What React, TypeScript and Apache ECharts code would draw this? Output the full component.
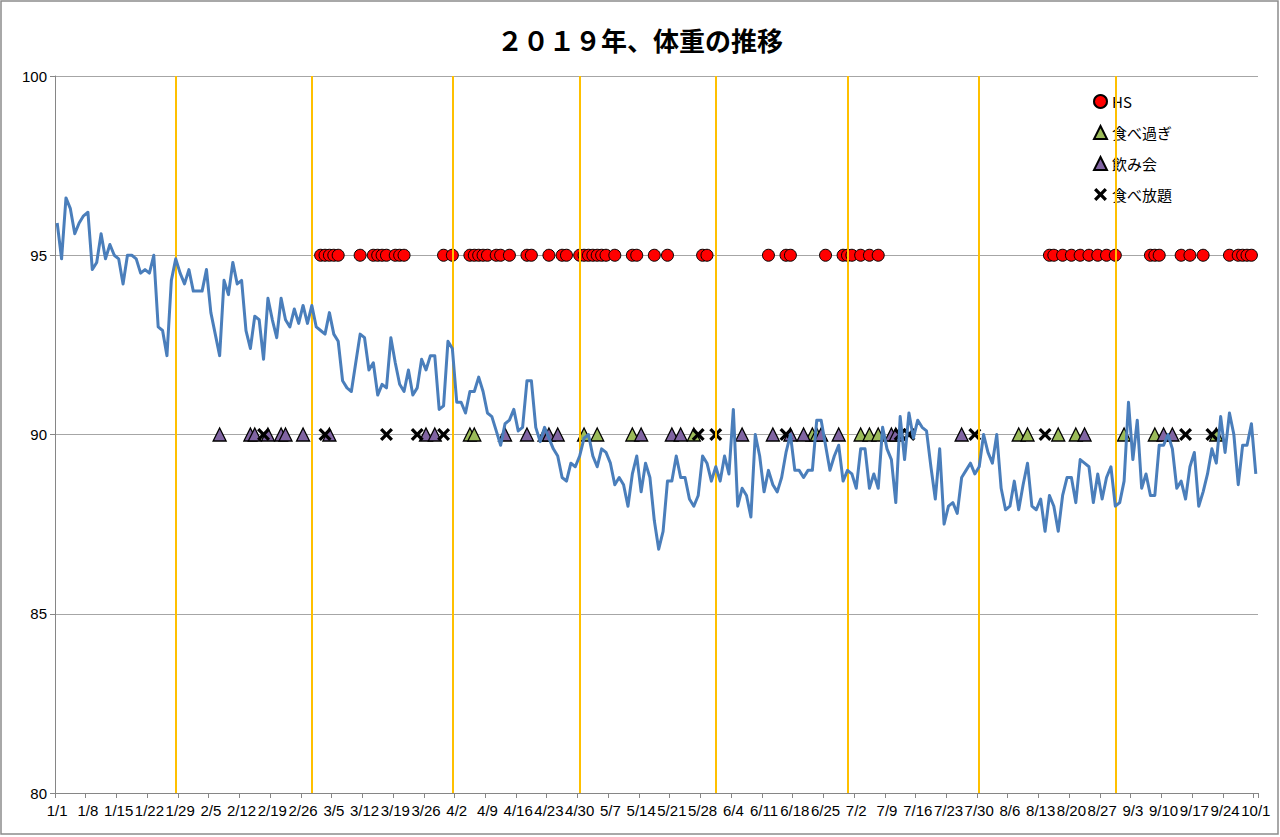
import React, { useEffect, useRef } from 'react';
import * as echarts from 'echarts';

const TITLE = '２０１９年、体重の推移';

// category axis: 1/1 .. 10/1 (2019)
const MONTH_LENGTHS = [31, 28, 31, 30, 31, 30, 31, 31, 30];
const DATES: string[] = [];
MONTH_LENGTHS.forEach((len, m) => {
  for (let d = 1; d <= len; d++) DATES.push(`${m + 1}/${d}`);
});
DATES.push('10/1');

// daily weight (kg), 1/1 .. 10/1
const WEIGHT = [
  95.9, 94.9, 96.6, 96.3, 95.6, 95.9, 96.1, 96.2, 94.6, 94.8,
  95.6, 94.9, 95.3, 95.0, 94.9, 94.2, 95.0, 95.0, 94.9, 94.5,
  94.6, 94.5, 95.0, 93.0, 92.9, 92.2, 94.3, 94.9, 94.5, 94.2,
  94.6, 94.0, 94.0, 94.0, 94.6, 93.4, 92.8, 92.2, 94.3, 93.9,
  94.8, 94.2, 94.3, 92.9, 92.4, 93.3, 93.2, 92.1, 93.8, 93.2,
  92.7, 93.8, 93.2, 93.0, 93.5, 93.1, 93.6, 93.1, 93.6, 93.0,
  92.9, 92.8, 93.4, 92.8, 92.6, 91.5, 91.3, 91.2, 92.0, 92.8,
  92.7, 91.8, 92.0, 91.1, 91.4, 91.3, 92.7, 92.0, 91.4, 91.2,
  91.8, 91.1, 91.3, 92.1, 91.8, 92.2, 92.2, 90.7, 90.8, 92.6,
  92.4, 90.9, 90.9, 90.6, 91.2, 91.2, 91.6, 91.2, 90.6, 90.5,
  90.1, 89.7, 90.3, 90.4, 90.7, 90.1, 90.2, 91.5, 91.5, 90.2,
  89.8, 90.2, 89.9, 89.6, 89.4, 88.8, 88.7, 89.2, 89.1, 89.4,
  89.9, 90.0, 89.4, 89.1, 89.6, 89.5, 89.2, 88.6, 88.8, 88.6,
  88.0, 88.9, 89.4, 88.4, 89.2, 88.8, 87.6, 86.8, 87.3, 88.7,
  88.7, 89.4, 88.8, 88.8, 88.2, 88.0, 88.3, 89.4, 89.2, 88.7,
  89.1, 88.7, 89.4, 88.9, 90.7, 88.0, 88.5, 88.3, 87.7, 90.0,
  89.4, 88.4, 89.0, 88.6, 88.4, 88.8, 89.5, 90.0, 89.0, 89.0,
  88.8, 89.0, 89.0, 90.4, 90.4, 89.7, 89.0, 89.4, 89.7, 88.7,
  89.0, 88.9, 88.5, 89.6, 89.6, 88.5, 88.9, 88.5, 90.2, 89.6,
  89.3, 88.1, 90.5, 89.3, 90.6, 89.9, 90.4, 90.2, 90.1, 89.1,
  88.2, 89.6, 87.5, 88.0, 88.1, 87.8, 88.8, 89.0, 89.2, 88.9,
  89.1, 90.0, 89.5, 89.2, 90.0, 88.5, 87.9, 88.0, 88.7, 87.9,
  88.6, 89.2, 88.0, 87.9, 88.2, 87.3, 88.3, 88.0, 87.3, 88.3,
  88.8, 88.8, 88.1, 89.3, 89.2, 89.1, 88.1, 88.9, 88.2, 88.8,
  89.1, 88.0, 88.1, 88.7, 90.9, 89.3, 90.4, 88.5, 88.9, 88.3,
  88.3, 89.7, 89.7, 90.0, 89.6, 88.5, 88.7, 88.2, 89.1, 89.5,
  88.0, 88.4, 88.9, 89.6, 89.2, 90.5, 89.5, 90.6, 90.0, 88.6,
  89.7, 89.7, 90.3, 88.9,
];

const HS_LEVEL = 95;
const EVENT_LEVEL = 90;

const HS_DAYS = [
  '3/2', '3/3', '3/4', '3/5', '3/6', '3/11', '3/14', '3/15', '3/16', '3/17',
  '3/19', '3/20', '3/21', '3/30', '4/1', '4/5', '4/6', '4/7', '4/8', '4/9',
  '4/11', '4/12', '4/14', '4/18', '4/19', '4/23', '4/26', '4/27', '4/30', '5/1',
  '5/2', '5/3', '5/4', '5/5', '5/6', '5/8', '5/12', '5/13', '5/17', '5/20',
  '5/28', '5/29', '6/12', '6/16', '6/17', '6/25', '6/29', '6/30', '7/1', '7/3',
  '7/5', '7/7', '8/15', '8/16', '8/18', '8/20', '8/22', '8/24', '8/26', '8/28',
  '8/30', '9/7', '9/8', '9/9', '9/14', '9/16', '9/19', '9/25', '9/27', '9/28',
  '9/29', '9/30',
];

const OVEREAT_DAYS = [
  '4/5', '4/6', '5/1', '5/4', '5/12', '5/26', '6/22', '6/23', '7/3', '7/5',
  '7/7', '8/8', '8/10', '8/17', '8/21', '9/1', '9/8', '9/22',
];

const DRINKING_DAYS = [
  '2/7', '2/14', '2/15', '2/18', '2/21', '2/22', '2/26', '3/4', '3/26', '3/28',
  '4/13', '4/18', '4/22', '4/23', '4/25', '5/14', '5/21', '5/23', '6/6', '6/13',
  '6/17', '6/20', '6/24', '6/28', '7/10', '7/11', '7/26', '8/23', '9/10', '9/12',
];

const BUFFET_DAYS = [
  '2/17', '3/3', '3/17', '3/24', '3/30', '5/27', '5/31', '6/16', '7/12', '7/14',
  '7/29', '8/14', '9/15', '9/21',
];

const MONTH_MARKS = ['1/28', '2/28', '4/1', '4/30', '5/31', '6/30', '7/30', '8/30'];

const Y_MIN = 80;
const Y_MAX = 100;
const Y_STEP = 5;

const X_SYMBOL =
  'path://M0,1.8L1.8,0L5,3.2L8.2,0L10,1.8L6.8,5L10,8.2L8.2,10L5,6.8L1.8,10L0,8.2L3.2,5Z';

const JP_FONT = '"Noto Sans CJK JP", "Noto Sans", sans-serif';
const NUM_FONT = '"Liberation Sans", Arial, sans-serif';

const toPoints = (days: string[], level: number) =>
  days.map((d) => [DATES.indexOf(d), level]);

export default function App() {
  const ref = useRef<HTMLDivElement>(null);

  useEffect(() => {
    if (!ref.current) return;
    const chart = echarts.init(ref.current, undefined, { renderer: 'svg' });
    const axisGray = '#868686';
    chart.setOption({
      animation: false,
      backgroundColor: '#ffffff',
      title: {
        text: TITLE,
        left: 'center',
        top: 21,
        textStyle: { fontSize: 26, fontWeight: 'bold', fontFamily: JP_FONT, color: '#000' },
      },
      legend: {
        orient: 'vertical',
        left: 1088,
        top: 89,
        itemGap: 16,
        itemWidth: 13,
        itemHeight: 13,
        selectedMode: false,
        textStyle: { fontSize: 15, fontFamily: JP_FONT, color: '#000' },
        data: [
          { name: 'HS', icon: 'circle' },
          { name: '食べ過ぎ', icon: 'triangle' },
          { name: '飲み会', icon: 'triangle' },
          { name: '食べ放題', icon: X_SYMBOL },
        ],
      },
      grid: { left: 55, right: 22, top: 76, bottom: 44 },
      xAxis: {
        type: 'category',
        data: DATES,
        boundaryGap: true,
        axisLine: { lineStyle: { color: axisGray, width: 1 } },
        axisTick: { show: true, interval: 6, length: 5, lineStyle: { color: axisGray } },
        axisLabel: {
          interval: 6,
          fontSize: 15,
          fontFamily: NUM_FONT,
          color: '#000',
          margin: 10,
        },
        splitLine: { show: false },
      },
      yAxis: {
        type: 'value',
        min: Y_MIN,
        max: Y_MAX,
        interval: Y_STEP,
        axisLine: { show: true, lineStyle: { color: axisGray, width: 1 } },
        axisTick: { show: true, length: 5, lineStyle: { color: axisGray } },
        axisLabel: { fontSize: 15, fontFamily: NUM_FONT, color: '#000', margin: 8 },
        splitLine: { lineStyle: { color: '#A6A6A6', width: 1 } },
      },
      series: [
        {
          name: 'HS',
          type: 'scatter',
          data: toPoints(HS_DAYS, HS_LEVEL),
          symbol: 'circle',
          symbolSize: 12,
          itemStyle: { color: '#FF0000', borderColor: '#000', borderWidth: 1, opacity: 1 },
          z: 2,
        },
        {
          name: '食べ過ぎ',
          type: 'scatter',
          data: toPoints(OVEREAT_DAYS, EVENT_LEVEL),
          symbol: 'triangle',
          symbolSize: 13,
          itemStyle: { color: '#9BBB59', borderColor: '#000', borderWidth: 1.3, opacity: 1 },
          z: 2,
        },
        {
          name: '飲み会',
          type: 'scatter',
          data: toPoints(DRINKING_DAYS, EVENT_LEVEL),
          symbol: 'triangle',
          symbolSize: 13,
          itemStyle: { color: '#8064A2', borderColor: '#000', borderWidth: 1.3, opacity: 1 },
          z: 2,
        },
        {
          name: '食べ放題',
          type: 'scatter',
          data: toPoints(BUFFET_DAYS, EVENT_LEVEL),
          symbol: X_SYMBOL,
          symbolSize: 13,
          itemStyle: { color: '#000', opacity: 1 },
          z: 2,
        },
        {
          name: '体重',
          type: 'line',
          data: WEIGHT,
          showSymbol: false,
          symbol: 'none',
          lineStyle: { color: '#4A7EBB', width: 3, join: 'round' },
          itemStyle: { color: '#4A7EBB' },
          z: 5,
          markLine: {
            silent: true,
            symbol: ['none', 'none'],
            label: { show: false },
            lineStyle: { color: '#FFC000', width: 2, type: 'solid' },
            data: MONTH_MARKS.map((m) => ({ xAxis: m })),
          },
        },
      ],
      graphic: [
        {
          type: 'rect',
          shape: { x: 1, y: 1, width: 1277, height: 833 },
          style: { fill: 'none', stroke: '#8C8C8C', lineWidth: 1.5 },
          silent: true,
          z: 100,
        },
      ],
    });
    return () => chart.dispose();
  }, []);

  return (
    <div
      ref={ref}
      style={{ position: 'absolute', left: 0, top: 0, width: 1280, height: 837 }}
    />
  );
}
